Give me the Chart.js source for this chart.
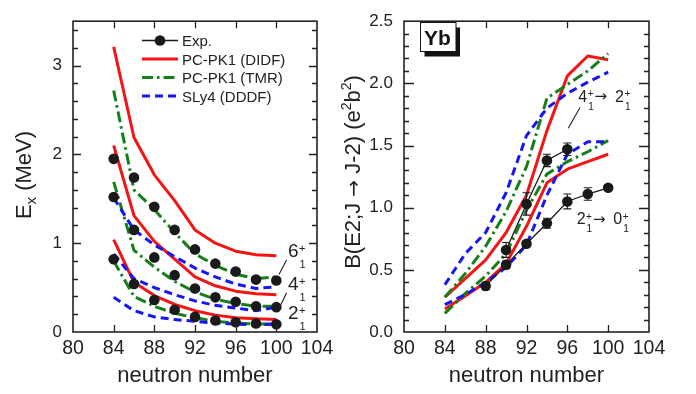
<!DOCTYPE html>
<html><head><meta charset="utf-8">
<script src="https://cdn.jsdelivr.net/npm/chart.js@4.4.1/dist/chart.umd.min.js"></script>
<style>
html,body{margin:0;padding:0;background:#fff;overflow:hidden;}
#wrap{position:relative;width:696px;height:394px;}
.pane{position:absolute;top:0;height:394px;}
</style></head><body>
<div id="wrap">
<div class="pane" style="left:0;width:348px"><canvas id="c1"></canvas></div>
<div class="pane" style="left:330px;width:366px"><canvas id="c2"></canvas></div>
</div>
<script>
const FONT = '"Liberation Sans", Arial, Helvetica, sans-serif';
const ARROW_FONT = '"DejaVu Sans", sans-serif';

// ---------- shared ----------
const neutrons = [84, 86, 88, 90, 92, 94, 96, 98, 100];
const xTickValues = [80, 84, 88, 92, 96, 100, 104];
const energyTickValues = [0, 1, 2, 3];
const be2TickValues = [0, 0.5, 1.0, 1.5, 2.0, 2.5];
const xTitle = 'neutron number';

// ---------- left panel: excitation energies (MeV) ----------
const expE2 = [0.82, 0.54, 0.36, 0.25, 0.17, 0.13, 0.11, 0.095, 0.087];
const expE4 = [1.52, 1.15, 0.84, 0.64, 0.49, 0.39, 0.34, 0.29, 0.28];
const expE6 = [1.95, 1.74, 1.41, 1.15, 0.93, 0.77, 0.68, 0.59, 0.58];

const didfE2 = [1.04, 0.56, 0.41, 0.31, 0.24, 0.19, 0.16, 0.15, 0.14];
const didfE4 = [2.10, 1.31, 1.02, 0.82, 0.62, 0.52, 0.46, 0.43, 0.42];
const didfE6 = [3.21, 2.19, 1.77, 1.48, 1.15, 1.00, 0.91, 0.87, 0.86];

const tmrE2 = [0.80, 0.40, 0.29, 0.21, 0.16, 0.12, 0.10, 0.09, 0.09];
const tmrE4 = [1.69, 0.92, 0.73, 0.57, 0.45, 0.37, 0.32, 0.29, 0.29];
const tmrE6 = [2.72, 1.60, 1.38, 1.12, 0.88, 0.75, 0.65, 0.60, 0.62];

const dddfE2 = [0.39, 0.24, 0.17, 0.14, 0.12, 0.10, 0.09, 0.08, 0.09];
const dddfE4 = [0.88, 0.60, 0.50, 0.42, 0.35, 0.30, 0.27, 0.24, 0.28];
const dddfE6 = [1.51, 1.15, 0.98, 0.85, 0.72, 0.62, 0.54, 0.49, 0.51];

// ---------- right panel: B(E2) (e^2 b^2) ----------
const expB20N = [88, 90, 92, 94, 96, 98, 100];
const expB20 = [0.37, 0.54, 0.71, 0.875, 1.05, 1.11, 1.16];
const expB20Err = [0.03, 0.03, 0.02, 0.04, 0.06, 0.05, 0.02];
const expB42N = [90, 92, 94, 96];
const expB42 = [0.66, 1.03, 1.38, 1.47];
const expB42Err = [0.06, 0.09, 0.05, 0.05];

const didfB20 = [0.185, 0.29, 0.40, 0.55, 0.85, 1.20, 1.31, 1.37, 1.43];
const didfB42 = [0.28, 0.43, 0.58, 0.80, 1.10, 1.62, 2.06, 2.22, 2.19];
const tmrB20 = [0.15, 0.31, 0.45, 0.63, 0.98, 1.27, 1.37, 1.45, 1.54];
const tmrB42 = [0.28, 0.47, 0.69, 0.97, 1.33, 1.88, 1.99, 2.10, 2.24];
const dddfB20 = [0.22, 0.30, 0.40, 0.52, 0.70, 1.10, 1.43, 1.53, 1.53];
const dddfB42 = [0.38, 0.63, 0.80, 1.12, 1.58, 1.80, 1.92, 2.01, 2.09];

const seriesNames = ['Exp.', 'PC-PK1 (DIDF)', 'PC-PK1 (TMR)', 'SLy4 (DDDF)'];

// ---------- styles ----------
const RED = '#f41414', GREEN = '#177f1a', BLUE = '#1515f5', BLACK = '#1a1a1a', AXIS = '#222';
const DASH_TMR = [11, 4, 2.5, 4], DASH_DDDF = [8, 5];

function pts(xs, ys) { return xs.map((x, i) => ({ x: x, y: ys[i] })); }
function theory(label, ys, color, dash) {
  return { label, data: pts(neutrons, ys), showLine: true, borderColor: color, backgroundColor: color,
    borderWidth: 3, borderDash: dash, borderCapStyle: 'butt', borderJoinStyle: 'round',
    pointRadius: 0, pointHoverRadius: 0, tension: 0, fill: false };
}
function expSet(label, xs, ys, showLine) {
  return { label, data: pts(xs, ys), showLine, borderColor: BLACK, borderWidth: 1.3,
    pointRadius: 5.3, pointHoverRadius: 5.3, pointBackgroundColor: BLACK, pointBorderColor: BLACK,
    pointBorderWidth: 0, tension: 0, fill: false };
}
function makeX() {
  return { type: 'linear', min: 80, max: 104,
    afterBuildTicks: s => { s.ticks = xTickValues.map(v => ({ value: v })); },
    afterFit: s => { s.height = 62; },
    grid: { display: false, drawTicks: false }, border: { display: false },
    ticks: { color: AXIS, font: { family: FONT, size: 19.5 }, padding: 5, maxRotation: 0, minRotation: 0, autoSkip: false } };
}
function makeY(min, max, vals, width, fmt) {
  return { type: 'linear', min, max,
    afterBuildTicks: s => { s.ticks = vals.map(v => ({ value: v })); },
    afterFit: s => { s.width = width; },
    grid: { display: false, drawTicks: false }, border: { display: false },
    ticks: { color: AXIS, font: { family: FONT, size: 17 }, padding: 11, autoSkip: false, callback: v => fmt(v) } };
}

function drawFrame(chart, yMajor, yStep, yMax, majLen, minLen) {
  const { ctx, chartArea: { left, right, top, bottom }, scales: { x, y } } = chart;
  ctx.save();
  ctx.strokeStyle = AXIS;
  ctx.lineWidth = 1.6;
  ctx.strokeRect(left, top, right - left, bottom - top);
  ctx.lineWidth = 1.3;
  ctx.beginPath();
  const n = Math.round(yMax / yStep);
  for (let k = 1; k < n; k++) {
    const v = k * yStep;
    const isMajor = yMajor.some(m => Math.abs(m - v) < 1e-6);
    const len = isMajor ? majLen : minLen;
    const py = Math.round(y.getPixelForValue(v)) + 0.5;
    ctx.moveTo(left, py); ctx.lineTo(left + len, py);
    ctx.moveTo(right, py); ctx.lineTo(right - len, py);
  }
  xTickValues.forEach(v => {
    if (v === 80 || v === 104) return;
    const px = Math.round(x.getPixelForValue(v)) + 0.5;
    ctx.moveTo(px, bottom); ctx.lineTo(px, bottom - 7);
    ctx.moveTo(px, top); ctx.lineTo(px, top + 7);
  });
  ctx.stroke();
  ctx.fillStyle = AXIS;
  ctx.font = '22px ' + FONT;
  ctx.textAlign = 'center';
  ctx.textBaseline = 'alphabetic';
  ctx.fillText(xTitle, (left + right) / 2, 382);
  ctx.restore();
}

function txt(ctx, s, x, y, size, bold, family) {
  ctx.font = (bold ? 'bold ' : '') + size + 'px ' + (family || FONT);
  ctx.fillText(s, x, y);
  return ctx.measureText(s).width;
}
// level label d^+_1 ; returns x position after the label
function level(ctx, d, x, base, size, small, supUp, subDown) {
  const w = txt(ctx, d, x, base, size);
  const w1 = txt(ctx, '+', x + w + 0.5, base - supUp, small);
  const w2 = txt(ctx, '1', x + w + 1, base + subDown, small);
  return x + w + 1 + Math.max(w1, w2);
}

function rotTitle(ctx, cx, cy, parts) {
  ctx.save();
  ctx.translate(cx, cy);
  ctx.rotate(-Math.PI / 2);
  const f = p => p[1] + 'px ' + (p[3] || FONT);
  let total = 0;
  parts.forEach(p => { ctx.font = f(p); total += ctx.measureText(p[0]).width; });
  let x = -total / 2;
  ctx.fillStyle = AXIS;
  ctx.textAlign = 'left';
  ctx.textBaseline = 'alphabetic';
  parts.forEach(p => { ctx.font = f(p); ctx.fillText(p[0], x, p[2]); x += ctx.measureText(p[0]).width; });
  ctx.restore();
}

// ---------- left chart ----------
const leftPlugin = {
  id: 'leftDeco',
  afterDatasetsDraw(chart) {
    const { ctx } = chart;
    drawFrame(chart, energyTickValues, 0.2, 3.5, 8, 5);
    ctx.save();
    ctx.fillStyle = AXIS; ctx.textBaseline = 'alphabetic'; ctx.textAlign = 'left';
    const rows = [40.5, 59, 77.5, 96];
    const styles = [[BLACK, [], 1.3], [RED, [], 3], [GREEN, DASH_TMR, 3], [BLUE, DASH_DDDF, 3]];
    rows.forEach((ry, i) => {
      ctx.save();
      ctx.strokeStyle = styles[i][0]; ctx.lineWidth = styles[i][2]; ctx.setLineDash(styles[i][1]);
      ctx.beginPath(); ctx.moveTo(142, ry); ctx.lineTo(178, ry); ctx.stroke();
      ctx.restore();
      if (i === 0) { ctx.beginPath(); ctx.fillStyle = BLACK; ctx.arc(160, ry, 5.3, 0, Math.PI * 2); ctx.fill(); ctx.fillStyle = AXIS; }
      txt(ctx, seriesNames[i], 182, ry + 5.5, 15);
    });
    level(ctx, '6', 288, 257, 19, 11, 5, 11);
    level(ctx, '4', 288, 290, 19, 11, 5, 11);
    level(ctx, '2', 288, 318.5, 19, 11, 5, 11);
    ctx.strokeStyle = AXIS; ctx.lineWidth = 1.1;
    ctx.beginPath();
    ctx.moveTo(286.5, 260); ctx.lineTo(279, 274.5);
    ctx.moveTo(286.5, 293); ctx.lineTo(280, 306.5);
    ctx.stroke();
    ctx.restore();
    rotTitle(ctx, 31, 175, [['E', 22, 0], ['x', 15, 5], [' (MeV)', 22, 0]]);
  }
};

new Chart(document.getElementById('c1'), {
  type: 'scatter',
  data: { datasets: [
    expSet('Exp. 2+', neutrons, expE2, false),
    expSet('Exp. 4+', neutrons, expE4, false),
    expSet('Exp. 6+', neutrons, expE6, false),
    theory('DDDF 2+', dddfE2, BLUE, DASH_DDDF),
    theory('DDDF 4+', dddfE4, BLUE, DASH_DDDF),
    theory('DDDF 6+', dddfE6, BLUE, DASH_DDDF),
    theory('TMR 2+', tmrE2, GREEN, DASH_TMR),
    theory('TMR 4+', tmrE4, GREEN, DASH_TMR),
    theory('TMR 6+', tmrE6, GREEN, DASH_TMR),
    theory('DIDF 2+', didfE2, RED, []),
    theory('DIDF 4+', didfE4, RED, []),
    theory('DIDF 6+', didfE6, RED, [])
  ] },
  options: {
    responsive: true, maintainAspectRatio: false, animation: false, devicePixelRatio: 1,
    layout: { padding: { left: 0, right: 31, top: 13, bottom: 0 } },
    plugins: { legend: { display: false }, tooltip: { enabled: false } },
    scales: { x: makeX(), y: makeY(0, 3.5, energyTickValues, 73, v => String(v)) }
  },
  plugins: [leftPlugin]
});

// ---------- right chart (canvas starts at page x = 330) ----------
const OX = 330;
const rightPlugin = {
  id: 'rightDeco',
  afterDatasetsDraw(chart) {
    const { ctx, scales: { x, y } } = chart;
    drawFrame(chart, be2TickValues, 0.1, 2.5, 10, 5);
    ctx.save();
    ctx.textAlign = 'left';
    ctx.strokeStyle = BLACK; ctx.lineWidth = 1.1;
    ctx.beginPath();
    const bars = (xs, ys, es) => xs.forEach((n, i) => {
      const px = x.getPixelForValue(n);
      const y1 = y.getPixelForValue(ys[i] - es[i]), y2 = y.getPixelForValue(ys[i] + es[i]);
      ctx.moveTo(px, y1); ctx.lineTo(px, y2);
      ctx.moveTo(px - 4, y1); ctx.lineTo(px + 4, y1);
      ctx.moveTo(px - 4, y2); ctx.lineTo(px + 4, y2);
    });
    bars(expB20N, expB20, expB20Err);
    bars(expB42N, expB42, expB42Err);
    ctx.stroke();
    // Yb box
    ctx.fillStyle = '#111';
    ctx.fillRect(424.5 - OX, 27.5, 35.5, 29);
    ctx.fillStyle = '#fff';
    ctx.fillRect(420.5 - OX, 22.5, 35.5, 29);
    ctx.strokeStyle = '#111'; ctx.lineWidth = 1;
    ctx.strokeRect(420.5 - OX, 22.5, 35.5, 29);
    ctx.fillStyle = '#111'; ctx.textBaseline = 'alphabetic';
    txt(ctx, 'Yb', 424 - OX, 44.5, 21, true);
    // transition labels
    ctx.fillStyle = AXIS;
    let e = level(ctx, '4', 578.3 - OX, 101.7, 16, 10, 4.5, 8);
    txt(ctx, '\u2192', e + 0.5, 101, 15, false, ARROW_FONT);
    level(ctx, '2', 615 - OX, 101.7, 16, 10, 4.5, 8);
    e = level(ctx, '2', 576.7 - OX, 224, 16, 10, 4.5, 8);
    txt(ctx, '\u2192', e + 0.5, 223.5, 15, false, ARROW_FONT);
    level(ctx, '0', 613.3 - OX, 224, 16, 10, 4.5, 8);
    ctx.strokeStyle = AXIS; ctx.lineWidth = 1.1;
    ctx.beginPath(); ctx.moveTo(580 - OX, 107.5); ctx.lineTo(568.3 - OX, 128.3); ctx.stroke();
    ctx.restore();
    rotTitle(ctx, 360 - OX, 172, [['B(E2;J ', 22, 0], ['\u2192', 20, 0, ARROW_FONT], [' J-2) (e', 22, 0], ['2', 14, -9], ['b', 22, 0], ['2', 14, -9], [')', 22, 0]]);
  }
};

new Chart(document.getElementById('c2'), {
  type: 'scatter',
  data: { datasets: [
    expSet('Exp. 2->0', expB20N, expB20, true),
    expSet('Exp. 4->2', expB42N, expB42, true),
    theory('DDDF 2->0', dddfB20, BLUE, DASH_DDDF),
    theory('DDDF 4->2', dddfB42, BLUE, DASH_DDDF),
    theory('TMR 2->0', tmrB20, GREEN, DASH_TMR),
    theory('TMR 4->2', tmrB42, GREEN, DASH_TMR),
    theory('DIDF 2->0', didfB20, RED, []),
    theory('DIDF 4->2', didfB42, RED, [])
  ] },
  options: {
    responsive: true, maintainAspectRatio: false, animation: false, devicePixelRatio: 1,
    layout: { padding: { left: 0, right: 47, top: 12, bottom: 0 } },
    plugins: { legend: { display: false }, tooltip: { enabled: false } },
    scales: { x: makeX(), y: makeY(0, 2.5, be2TickValues, 404 - OX, v => v.toFixed(1)) }
  },
  plugins: [rightPlugin]
});
</script>
</body></html>
